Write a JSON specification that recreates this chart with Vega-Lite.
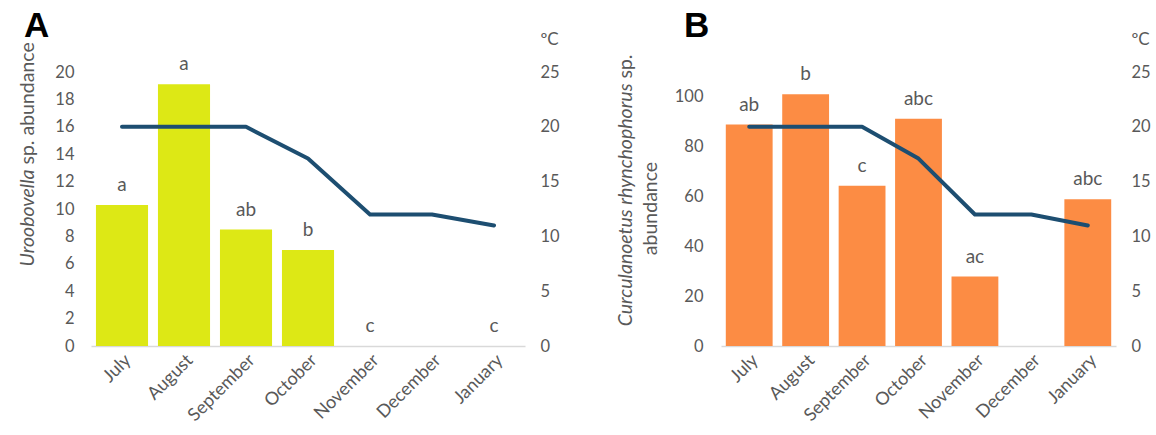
{
  "$schema": "https://vega.github.io/schema/vega-lite/v6.json",
  "background": "white",
  "padding": {"left": 16, "top": 9, "right": 5, "bottom": 5},
  "spacing": 54,
  "config": {
    "font": "Lato",
    "view": {"stroke": null},
    "axis": {"grid": false, "ticks": false, "domain": false, "labelFont": "Lato", "labelFontSize": 16.5, "labelColor": "#595959", "titleFont": "Lato", "titleFontSize": 19.5, "titleFontWeight": "normal", "titleColor": "#595959"},
    "title": {"font": "Liberation Sans", "fontSize": 35, "fontWeight": "bold", "color": "#000000", "anchor": "start", "frame": "group", "baseline": "alphabetic"}
  },
  "datasets": {
    "a": [
      {"month": "July", "abundance": 10.3, "letter": "a", "temp": 20},
      {"month": "August", "abundance": 19.1, "letter": "a", "temp": 20},
      {"month": "September", "abundance": 8.5, "letter": "ab", "temp": 20},
      {"month": "October", "abundance": 7.0, "letter": "b", "temp": 17.1},
      {"month": "November", "abundance": 0, "letter": "c", "temp": 12},
      {"month": "December", "abundance": 0, "letter": "", "temp": 12},
      {"month": "January", "abundance": 0, "letter": "c", "temp": 11}
    ],
    "b": [
      {"month": "July", "abundance": 88.9, "letter": "ab", "temp": 20},
      {"month": "August", "abundance": 101.1, "letter": "b", "temp": 20},
      {"month": "September", "abundance": 64.3, "letter": "c", "temp": 20},
      {"month": "October", "abundance": 91.2, "letter": "abc", "temp": 17.1},
      {"month": "November", "abundance": 27.9, "letter": "ac", "temp": 12},
      {"month": "December", "abundance": 0, "letter": "", "temp": 12},
      {"month": "January", "abundance": 58.9, "letter": "abc", "temp": 11}
    ]
  },
  "hconcat": [
    {
      "width": 434,
      "height": 274,
      "data": {"name": "a"},
      "title": {"text": "A", "dx": -67, "offset": -14},
      "encoding": {
        "x": {"field": "month", "type": "nominal", "sort": null,
          "scale": {"paddingInner": 0.16, "paddingOuter": 0.08},
          "axis": {"title": null, "domain": true, "domainColor": "#d9d9d9", "domainWidth": 1.3, "labelAngle": -45, "labelAlign": "right", "labelBaseline": "top", "labelPadding": 5, "labelFontSize": 18}}
      },
      "layer": [
        {
          "layer": [
            {
              "mark": {"type": "bar", "color": "#dde815"},
              "encoding": {
                "y": {"field": "abundance", "type": "quantitative",
                  "scale": {"domain": [0, 20], "nice": false},
                  "axis": {"orient": "left", "values": [0, 2, 4, 6, 8, 10, 12, 14, 16, 18, 20], "labelPadding": 17,
                    "title": "Uroobovella", "titleFontStyle": "italic", "titleAngle": -90, "titleAlign": "right", "titleBaseline": "middle", "titleX": -64, "titleY": 97}}
              }
            },
            {
              "mark": {"type": "text", "baseline": "alphabetic", "dy": -14, "fontSize": 19, "color": "#595959", "font": "Lato"},
              "encoding": {
                "y": {"field": "abundance", "type": "quantitative",
                  "scale": {"domain": [0, 20], "nice": false},
                  "axis": {"orient": "left", "labels": false, "ticks": false, "domain": false,
                    "title": "sp. abundance", "titleAngle": -90, "titleAlign": "left", "titleBaseline": "middle", "titleX": -64, "titleY": 92}},
                "text": {"field": "letter"}
              }
            }
          ],
          "resolve": {"axis": {"y": "independent"}}
        },
        {
          "mark": {"type": "line", "color": "#1d4e71", "strokeWidth": 4, "strokeCap": "round", "strokeJoin": "round"},
          "encoding": {
            "y": {"field": "temp", "type": "quantitative",
              "scale": {"domain": [0, 25], "nice": false},
              "axis": {"orient": "right", "values": [0, 5, 10, 15, 20, 25], "labelPadding": 15,
                "title": "ºC", "titleAngle": 0, "titleAlign": "left", "titleBaseline": "middle", "titleFontSize": 17, "titleX": 15, "titleY": -33}}
          }
        }
      ],
      "resolve": {"scale": {"y": "independent"}}
    },
    {
      "width": 395,
      "height": 274,
      "data": {"name": "b"},
      "title": {"text": "B", "dx": -37, "offset": -14},
      "encoding": {
        "x": {"field": "month", "type": "nominal", "sort": null,
          "scale": {"paddingInner": 0.17, "paddingOuter": 0.085},
          "axis": {"title": null, "domain": true, "domainColor": "#d9d9d9", "domainWidth": 1.3, "labelAngle": -45, "labelAlign": "right", "labelBaseline": "top", "labelPadding": 5, "labelFontSize": 18}}
      },
      "layer": [
        {
          "layer": [
            {
              "mark": {"type": "bar", "color": "#fc8c44"},
              "encoding": {
                "y": {"field": "abundance", "type": "quantitative",
                  "scale": {"domain": [0, 110], "nice": false},
                  "axis": {"orient": "left", "values": [0, 20, 40, 60, 80, 100], "labelPadding": 18,
                    "title": "Curculanoetus rhynchophorus", "titleFontStyle": "italic", "titleAngle": -90, "titleAlign": "right", "titleBaseline": "middle", "titleX": -96, "titleY": 11}}
              }
            },
            {
              "mark": {"type": "text", "baseline": "alphabetic", "dy": -14, "fontSize": 19, "color": "#595959", "font": "Lato"},
              "encoding": {
                "y": {"field": "abundance", "type": "quantitative",
                  "scale": {"domain": [0, 110], "nice": false},
                  "axis": {"orient": "left", "labels": false, "ticks": false, "domain": false,
                    "title": "sp.", "titleAngle": -90, "titleAlign": "left", "titleBaseline": "middle", "titleX": -96, "titleY": 6}},
                "text": {"field": "letter"}
              }
            },
            {
              "mark": {"type": "rule", "color": "#d9d9d9", "strokeWidth": 1.3},
              "encoding": {
                "y": {"datum": 0, "type": "quantitative",
                  "scale": {"domain": [0, 110], "nice": false},
                  "axis": {"orient": "left", "labels": false, "ticks": false, "domain": false,
                    "title": "abundance", "titleAngle": -90, "titleAlign": "center", "titleBaseline": "middle", "titleX": -71, "titleY": 136}}
              }
            }
          ],
          "resolve": {"axis": {"y": "independent"}}
        },
        {
          "mark": {"type": "line", "color": "#1d4e71", "strokeWidth": 4, "strokeCap": "round", "strokeJoin": "round"},
          "encoding": {
            "y": {"field": "temp", "type": "quantitative",
              "scale": {"domain": [0, 25], "nice": false},
              "axis": {"orient": "right", "values": [0, 5, 10, 15, 20, 25], "labelPadding": 15,
                "title": "ºC", "titleAngle": 0, "titleAlign": "left", "titleBaseline": "middle", "titleFontSize": 17, "titleX": 15, "titleY": -33}}
          }
        }
      ],
      "resolve": {"scale": {"y": "independent"}}
    }
  ]
}
